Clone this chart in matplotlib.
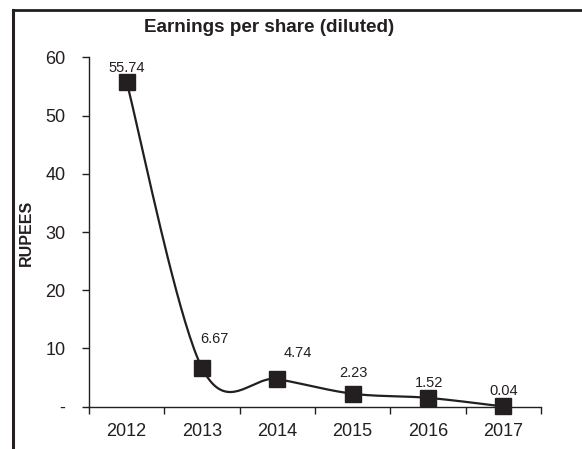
import numpy as np
import matplotlib
matplotlib.use('Agg')
import matplotlib.pyplot as plt
from matplotlib.lines import Line2D

years = ['2012', '2013', '2014', '2015', '2016', '2017']
eps = [55.74, 6.67, 4.74, 2.23, 1.52, 0.04]
eps_labels = ['55.74', '6.67', '4.74', '2.23', '1.52', '0.04']
yticks = [0, 10, 20, 30, 40, 50, 60]
ytick_labels = ['-', '10', '20', '30', '40', '50', '60']

# label offsets in pixels (dx, dy) relative to the point
label_offsets = [(0, 14), (12, 29), (20, 26), (1, 21), (1, 15), (0, 15.5)]


def smooth_line(x, y, n=40):
    # Excel style smoothed line: Catmull-Rom as cubic Bezier
    x = np.asarray(x, float)
    y = np.asarray(y, float)
    px = np.concatenate([[x[0]], x, [x[-1]]])
    py = np.concatenate([[y[0]], y, [y[-1]]])
    xs, ys = [], []
    t = np.linspace(0, 1, n)
    for i in range(1, len(px) - 2):
        p0 = np.array([px[i], py[i]])
        p3 = np.array([px[i + 1], py[i + 1]])
        p1 = p0 + (np.array([px[i + 1], py[i + 1]]) - np.array([px[i - 1], py[i - 1]])) / 6
        p2 = p3 - (np.array([px[i + 2], py[i + 2]]) - np.array([px[i], py[i]])) / 6
        b = ((1 - t) ** 3)[:, None] * p0 + (3 * (1 - t) ** 2 * t)[:, None] * p1 \
            + (3 * (1 - t) * t ** 2)[:, None] * p2 + (t ** 3)[:, None] * p3
        xs.extend(b[:, 0])
        ys.extend(b[:, 1])
    return xs, ys


plt.rcParams['font.family'] = ['Liberation Sans', 'DejaVu Sans']
dark = '#231f20'

fig = plt.figure(figsize=(5.82, 4.49), dpi=100)
ax = fig.add_axes([89 / 582, 42.3 / 449, (541 - 89) / 582, (406.7 - 57.3) / 449])

xpos = np.arange(len(years))
sx, sy = smooth_line(xpos, eps)
ax.plot(sx, sy, color=dark, lw=1.6, zorder=2, clip_on=False)
ax.plot(xpos, eps, linestyle='none', marker='s', markersize=11.5,
        color=dark, zorder=3, clip_on=False)

for i, (v, lab) in enumerate(zip(eps, eps_labels)):
    dx, dy = label_offsets[i]
    ax.annotate(lab, (xpos[i], v), xytext=(dx * 0.72, dy * 0.72),
                textcoords='offset points', ha='center', va='center',
                fontsize=10.5, color=dark)

ax.set_xlim(-0.5, len(years) - 0.5)
ax.set_ylim(0, 60)
ax.set_yticks(yticks)
ax.set_yticklabels(ytick_labels, fontsize=13, color=dark)
ax.set_xticks(xpos)
ax.set_xticklabels(years, fontsize=13, color=dark)
ax.set_xticks(np.arange(-0.5, len(years)), minor=True)
ax.tick_params(axis='x', which='major', length=0, pad=12)
ax.tick_params(axis='x', which='minor', length=5, width=1, color=dark, direction='out')
ax.tick_params(axis='y', length=5, width=1, color=dark, pad=12)

for s in ['top', 'right']:
    ax.spines[s].set_visible(False)
for s in ['left', 'bottom']:
    ax.spines[s].set_color(dark)
    ax.spines[s].set_linewidth(1)

ax.set_ylabel('RUPEES', fontsize=11.5, fontweight='bold', color=dark, va='center')
ax.yaxis.set_label_coords(-63 / 452, (406.7 - 233) / 349.4)

fig.text(269 / 582, 1 - 27 / 449, 'Earnings per share (diluted)', ha='center', va='center',
         fontsize=13.6, fontweight='bold', color=dark)

# outer frame: top and left lines
fig.add_artist(Line2D([13 / 582, 1.0], [1 - 10 / 449, 1 - 10 / 449],
                      transform=fig.transFigure, color=dark, lw=2))
fig.add_artist(Line2D([13 / 582, 13 / 582], [0, 1 - 10 / 449],
                      transform=fig.transFigure, color=dark, lw=2.2))

fig.savefig('out.png', dpi=100)
